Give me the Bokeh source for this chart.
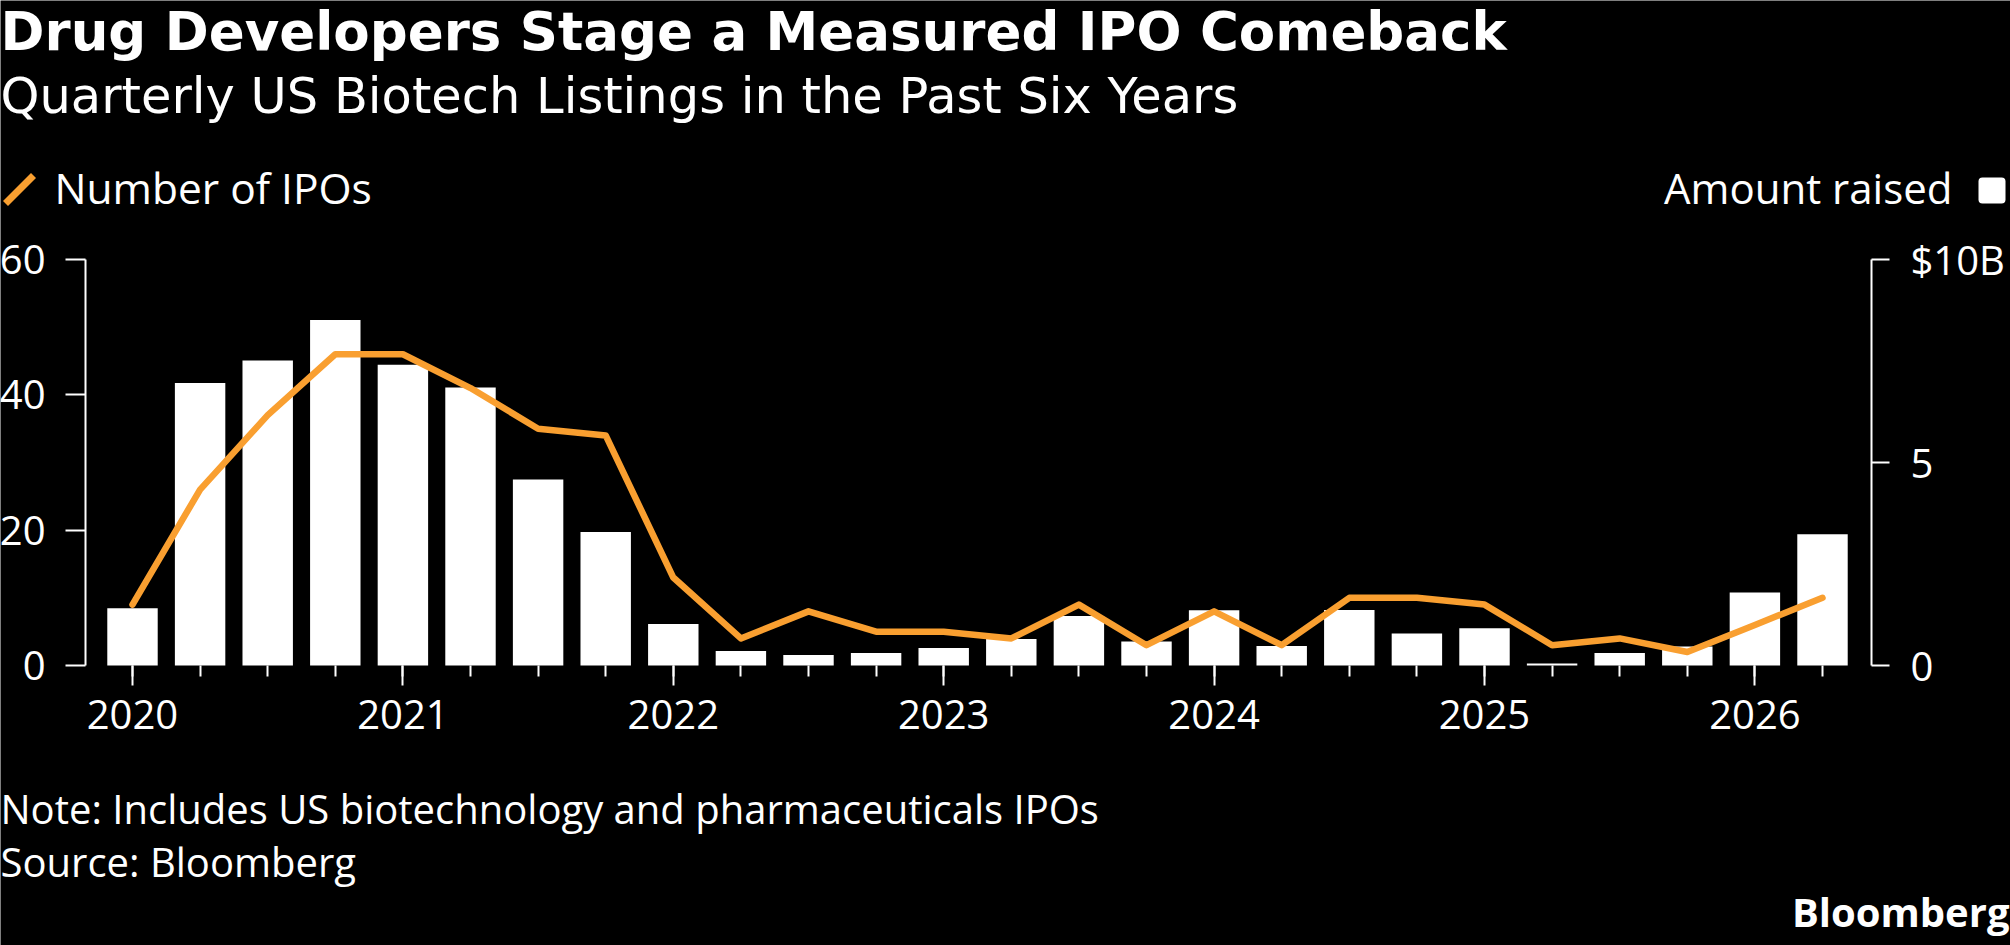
from bokeh.plotting import figure
from bokeh.models import (Range1d, LinearAxis, FixedTicker, Label,
                          PolyAnnotation, BoxAnnotation)
from bokeh.embed import file_html
from bokeh.resources import INLINE

# ---- data -----------------------------------------------------------------
quarters = [
    "2020 Q1", "2020 Q2", "2020 Q3", "2020 Q4",
    "2021 Q1", "2021 Q2", "2021 Q3", "2021 Q4",
    "2022 Q1", "2022 Q2", "2022 Q3", "2022 Q4",
    "2023 Q1", "2023 Q2", "2023 Q3", "2023 Q4",
    "2024 Q1", "2024 Q2", "2024 Q3", "2024 Q4",
    "2025 Q1", "2025 Q2", "2025 Q3", "2025 Q4",
    "2026 Q1", "2026 Q2",
]
ipo_count = [9, 26, 37, 46, 46, 41, 35, 34,
             13, 4, 8, 5, 5, 4, 9, 3,
             8, 3, 10, 10, 9, 3, 4, 2,
             6, 10]
amount_raised_bn = [1.41, 6.96, 7.51, 8.51, 7.41, 6.85, 4.58, 3.29,
                    1.02, 0.36, 0.26, 0.31, 0.43, 0.65, 1.22, 0.59,
                    1.36, 0.48, 1.37, 0.79, 0.92, 0.05, 0.31, 0.47,
                    1.80, 3.23]
year_ticks = [2020, 2021, 2022, 2023, 2024, 2025, 2026]
count_ticks = [0, 20, 40, 60]
amount_ticks = [0, 5, 10]
amount_labels = {10: "$10B"}

# ---- styling / geometry ----------------------------------------------------
ORANGE = "#F99F30"
WHITE = "#FFFFFF"
BG = "#000000"
W, H = 2010, 945
AXIS_L, AXIS_R, AXIS_T, AXIS_B = 85, 1871, 259, 665   # plot area in canvas px
PX_PER_YEAR = 270.4
FIRST_X_PX = 132                                       # centre of first quarter
COUNT_MAX, AMOUNT_MAX = 60, 10
PX_PER_COUNT = (AXIS_B - AXIS_T) / COUNT_MAX
TEXT_LIFT = 16                                         # baseline correction for labels


def quarter_pos(label):
    year, q = label.split(" Q")
    return int(year) + (int(q) - 1) / 4


x = [quarter_pos(q) for q in quarters]


def px_to_year(px):
    return x[0] + (px - FIRST_X_PX) / PX_PER_YEAR


# the plot frame covers the whole canvas; axes are pinned inside it
x_start, x_end = px_to_year(0), px_to_year(W)
y_start = -(H - AXIS_B) / PX_PER_COUNT
y_end = COUNT_MAX + AXIS_T / PX_PER_COUNT
amt_scale = AMOUNT_MAX / COUNT_MAX

p = figure(
    width=W, height=H,
    output_backend="svg", toolbar_location=None,
    x_range=Range1d(x_start, x_end), y_range=Range1d(y_start, y_end),
    x_axis_location=None, y_axis_location=None,
    min_border=0,
    background_fill_color=BG, border_fill_color=BG,
    outline_line_color=None,
)
p.grid.visible = False
p.extra_y_ranges = {"amt": Range1d(y_start * amt_scale, y_end * amt_scale)}

TICK_FONT = "Open Sans"
TICK_SIZE = "40px"


def style_axis(ax, tick_out, standoff):
    ax.major_tick_line_color = WHITE
    ax.major_tick_line_width = 2
    ax.major_tick_in = 0
    ax.major_tick_out = tick_out
    ax.major_label_text_color = WHITE
    ax.major_label_text_font = TICK_FONT
    ax.major_label_text_font_size = TICK_SIZE
    ax.major_label_standoff = standoff


# left axis: number of IPOs
la = LinearAxis(ticker=FixedTicker(ticks=count_ticks),
                fixed_location=px_to_year(AXIS_L), bounds=(0, COUNT_MAX))
style_axis(la, 20, 20)
la.axis_line_color = WHITE
la.axis_line_width = 2
la.minor_tick_line_color = None
p.add_layout(la, "left")

# right axis: amount raised
ra = LinearAxis(y_range_name="amt", ticker=FixedTicker(ticks=amount_ticks),
                major_label_overrides=amount_labels,
                fixed_location=px_to_year(AXIS_R), bounds=(0, AMOUNT_MAX))
style_axis(ra, 18, 21)
ra.axis_line_color = WHITE
ra.axis_line_width = 2
ra.minor_tick_line_color = None
p.add_layout(ra, "right")

# bottom axis: years, with a tick at every quarter
xa = LinearAxis(ticker=FixedTicker(ticks=year_ticks, minor_ticks=x),
                fixed_location=0)
style_axis(xa, 20, 14)
xa.axis_line_color = None
xa.minor_tick_line_color = WHITE
xa.minor_tick_line_width = 2
xa.minor_tick_in = 0
xa.minor_tick_out = 11
xa.formatter.use_scientific = False
p.add_layout(xa, "below")

# bars: amount raised, line: number of IPOs
p.vbar(x=x, top=amount_raised_bn, bottom=0, width=0.1865,
       y_range_name="amt", fill_color=WHITE, line_color=None)
p.line(x, ipo_count, line_color=ORANGE, line_width=6.5,
       line_join="round", line_cap="round")


# ---- texts (canvas px, converted to screen units measured from the bottom)
def add_text(text, cx, cy, size, font="Open Sans", style="normal", align="left"):
    p.add_layout(Label(
        x=cx, y=H - (cy - TEXT_LIFT), x_units="screen", y_units="screen",
        text=text, text_font=font, text_font_size=f"{size}px",
        text_font_style=style, text_color=WHITE,
        text_align=align, text_baseline="alphabetic",
    ))


add_text("Drug Developers Stage a Measured IPO Comeback", 0, 47, 53,
         font="DejaVu Sans", style="bold")
add_text("Quarterly US Biotech Listings in the Past Six Years", 0, 111, 49.5,
         font="DejaVu Sans")
add_text("Number of IPOs", 54, 203, 42.5)
add_text("Amount raised", 1952, 203, 42, align="right")
add_text("Note: Includes US biotechnology and pharmaceuticals IPOs", 0, 824, 40)
add_text("Source: Bloomberg", 0, 877, 40)
add_text("Bloomberg", 2009, 927, 40, style="bold", align="right")


# legend keys
def to_screen(pts):
    return [cx for cx, _ in pts], [H - cy for _, cy in pts]


slash_xs, slash_ys = to_screen([(7.5, 205.5), (2.5, 200.5), (30.5, 172.5), (35.5, 177.5)])
p.add_layout(PolyAnnotation(xs=slash_xs, ys=slash_ys, xs_units="screen", ys_units="screen",
                            fill_color=ORANGE, fill_alpha=1, line_color=None))
p.add_layout(BoxAnnotation(left=1978, right=2005, top=H - 177, bottom=H - 203,
                           left_units="screen", right_units="screen",
                           top_units="screen", bottom_units="screen",
                           fill_color=WHITE, fill_alpha=1, line_color=None,
                           border_radius=4))

open("out.html", "w").write(file_html(p, INLINE))
